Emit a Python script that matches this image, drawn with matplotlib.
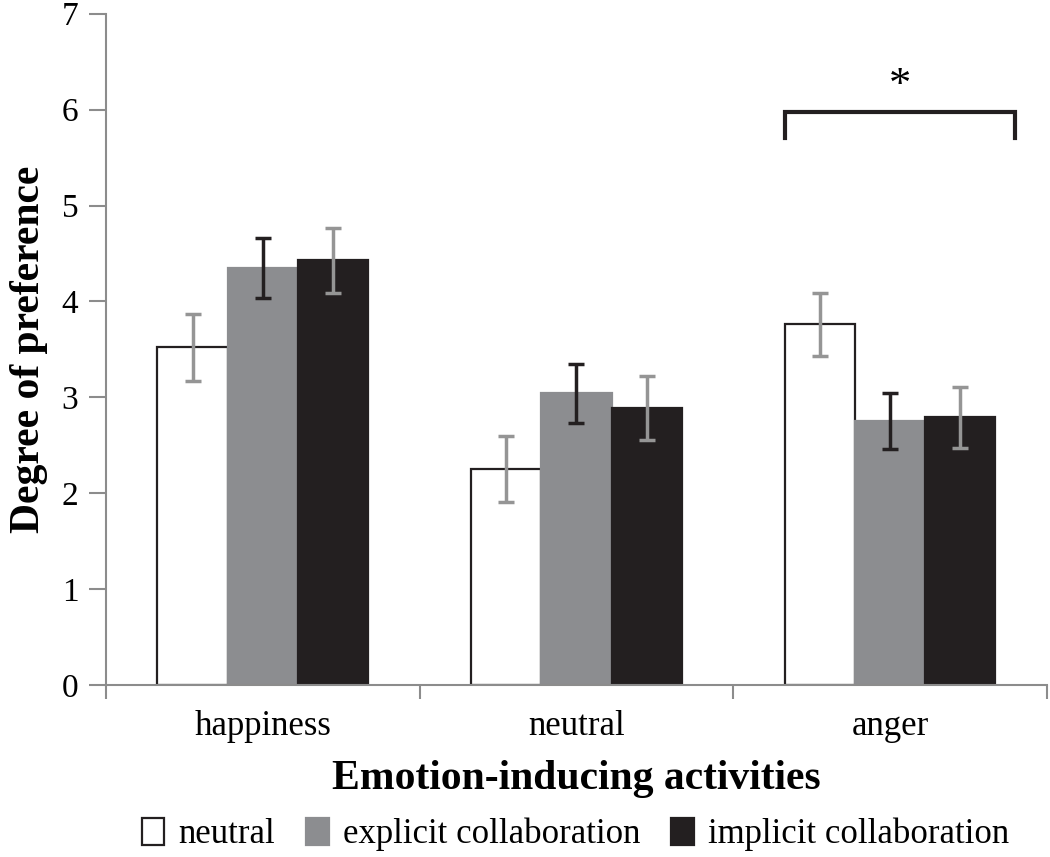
import matplotlib.pyplot as plt
import numpy as np

plt.rcParams['font.family'] = ['Liberation Serif', 'DejaVu Serif']

# Data
activities = ["happiness", "neutral", "anger"]
series = ["neutral", "explicit collaboration", "implicit collaboration"]
means = {
    "neutral": [3.52, 2.25, 3.76],
    "explicit collaboration": [4.35, 3.04, 2.75],
    "implicit collaboration": [4.43, 2.89, 2.79],
}
errors = {
    "neutral": [0.35, 0.345, 0.33],
    "explicit collaboration": [0.31, 0.31, 0.29],
    "implicit collaboration": [0.34, 0.335, 0.32],
}

face = {"neutral": "white", "explicit collaboration": "#8c8d90", "implicit collaboration": "#231f20"}
edge = {"neutral": "#231f20", "explicit collaboration": "#8c8d90", "implicit collaboration": "#231f20"}
ecol = {"neutral": "#959595", "explicit collaboration": "#231f20", "implicit collaboration": "#959595"}

fig = plt.figure(figsize=(10.5, 8.57), dpi=100)
ax = fig.add_axes([0.101, 0.2007, 0.896, 0.7833])

x = np.arange(len(activities))
w = 0.224
for i, s in enumerate(series):
    pos = x + (i - 1) * w
    ax.bar(pos, means[s], w, color=face[s], edgecolor=edge[s], linewidth=1.6, label=s, zorder=2)
    ax.errorbar(pos, means[s], yerr=errors[s], fmt='none', ecolor=ecol[s],
                elinewidth=2.5, capsize=6, capthick=2.5, zorder=3)

# significance bracket
ax.plot([1.665, 1.665, 2.40, 2.40], [5.70, 5.98, 5.98, 5.70], color='#231f20', lw=3,
        solid_joinstyle='miter', zorder=4)
ax.text(2.03, 6.25, "*", ha='center', va='center', fontsize=32)

ax.set_xlim(-0.5, 2.5)
ax.set_ylim(0, 7)
ax.set_yticks(range(8))
ax.set_xticks(x)
ax.set_xticklabels(activities)
ax.set_xticks([-0.5, 0.5, 1.5, 2.5], minor=True)
ax.tick_params(axis='x', which='major', length=0, labelsize=25, pad=18)
ax.tick_params(axis='x', which='minor', length=10, width=1.5, color='#8c8c8c')
ax.tick_params(axis='y', length=12, width=1.5, color='#8c8c8c', labelsize=24, pad=8)
for side in ['top', 'right']:
    ax.spines[side].set_visible(False)
for side in ['left', 'bottom']:
    ax.spines[side].set_color('#8c8c8c')
    ax.spines[side].set_linewidth(1.5)

ax.set_ylabel("Degree of preference", fontsize=30, fontweight='bold', labelpad=10)
ax.set_xlabel("Emotion-inducing activities", fontsize=30, fontweight='bold', labelpad=12)

fig.legend(loc='center', bbox_to_anchor=(0.548, 0.026), ncol=3, frameon=False, fontsize=25,
           handlelength=0.65, handleheight=0.8, handletextpad=0.4, columnspacing=0.9)

fig.savefig("out.png", dpi=100)
